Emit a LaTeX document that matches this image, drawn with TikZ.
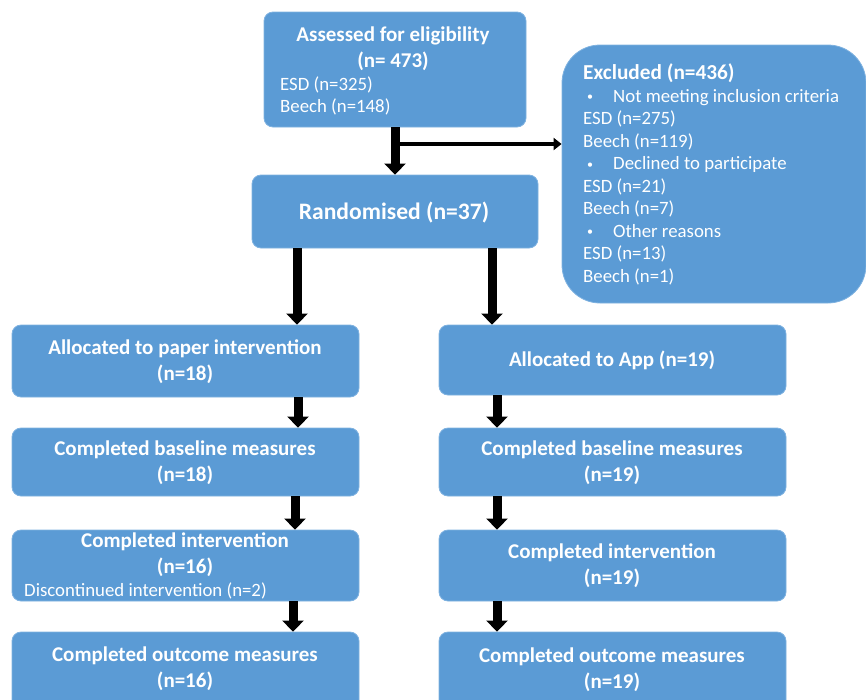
\documentclass[tikz,border=0pt]{standalone}
\usepackage{fontspec}
\setmainfont{Carlito}
\usetikzlibrary{arrows.meta}
\definecolor{boxblue}{HTML}{5B9BD5}
\definecolor{boxedge}{HTML}{7FB2E0}
\newcommand{\smallbul}{\hspace*{4pt}\makebox[26pt][l]{\raisebox{1.5pt}{\fontsize{12}{12}\selectfont\textbullet}}}

\begin{document}
\begin{tikzpicture}[x=1pt,y=-1pt,
  box/.style={draw=boxedge, line width=0.8pt, fill=boxblue, rounded corners=9pt,
              inner sep=0pt, minimum width=347pt},
  head/.style={text=white, font=\fontsize{21}{26}\selectfont\bfseries, align=center, inner sep=0pt},
  note/.style={text=white, font=\fontsize{18.8}{22.5}\selectfont, align=left, inner sep=0pt},
  bigarrow/.style={line width=9pt, -{Triangle[width=21pt,length=11pt]}},
  thinarrow/.style={line width=4pt, -{Triangle[width=12pt,length=8pt]}}]
\useasboundingbox (0,0) rectangle (866,699);
\clip (0,0) rectangle (866,699);

% boxes
\node[box, minimum width=262pt, minimum height=115pt] (assess) at (395,69.5) {};
\node[box, minimum width=286pt, minimum height=73pt] (rand) at (395,211.5) {};
\node[box, rounded corners=38pt, minimum width=304pt, minimum height=258pt] (excl) at (714,174) {};

\node[box, minimum height=72pt] (L1) at (185.5,361) {};
\node[box, minimum height=68pt] (L2) at (185.5,462) {};
\node[box, minimum height=71pt] (L3) at (185.5,565.5) {};
\node[box, minimum height=83pt] (L4) at (185.5,673.5) {};

\node[box, minimum height=70pt] (R1) at (612.5,360) {};
\node[box, minimum height=68pt] (R2) at (612.5,462) {};
\node[box, minimum height=71pt] (R3) at (612.5,565.5) {};
\node[box, minimum height=83pt] (R4) at (612.5,673.5) {};

% texts
\node[head] (assessT) at (393,48.5) {Assessed for eligibility\\(n= 473)};
\node[note, anchor=west] (assessN) at (280,96) {ESD (n=325)\\Beech (n=148)};
\node[text=white, inner sep=0pt, font=\fontsize{23.6}{28}\selectfont\bfseries] (randT) at (394,213) {Randomised (n=37)};
\node[note, anchor=west] (exclT) at (583,174.5) {%
  {\fontsize{21.3}{22.5}\selectfont\bfseries Excluded (n=436)}\\
  \smallbul Not meeting inclusion criteria\\
  ESD (n=275)\\
  Beech (n=119)\\
  \smallbul Declined to participate\\
  ESD (n=21)\\
  Beech (n=7)\\
  \smallbul Other reasons\\
  ESD (n=13)\\
  Beech (n=1)};

\node[head] (L1T) at (185,362) {Allocated to paper intervention\\(n=18)};
\node[head] (L2T) at (185,463) {Completed baseline measures\\(n=18)};
\node[head] (L3T) at (185,555) {Completed intervention\\(n=16)};
\node[note, anchor=west] (L3N) at (24,591) {Discontinued intervention (n=2)};
\node[head] (L4T) at (185,669) {Completed outcome measures\\(n=16)};

\node[head] (R1T) at (612,360) {Allocated to App (n=19)};
\node[head] (R2T) at (612,463) {Completed baseline measures\\(n=19)};
\node[head] (R3T) at (612,566) {Completed intervention\\(n=19)};
\node[head] (R4T) at (612,670) {Completed outcome measures\\(n=19)};

% connectors
\draw[bigarrow] (assess.south) -- (assess.south |- rand.north);
\coordinate (split) at (400,144);
\draw[thinarrow] (split) -- (split -| excl.west);

\draw[bigarrow] ([xshift=-98pt]rand.south) -- ([xshift=-98pt]rand.south |- L1.north);
\draw[bigarrow] ([xshift=97pt]rand.south) -- ([xshift=97pt]rand.south |- R1.north);

\draw[bigarrow] ([xshift=112.5pt]L1.south) -- ([xshift=112.5pt]L1.south |- L2.north);
\draw[bigarrow] ([xshift=109.5pt]L2.south) -- ([xshift=109.5pt]L2.south |- L3.north);
\draw[bigarrow] ([xshift=107.5pt]L3.south) -- ([xshift=107.5pt]L3.south |- L4.north);

\draw[bigarrow] ([xshift=-115.5pt]R1.south) -- ([xshift=-115.5pt]R1.south |- R2.north);
\draw[bigarrow] ([xshift=-115.5pt]R2.south) -- ([xshift=-115.5pt]R2.south |- R3.north);
\draw[bigarrow] ([xshift=-115.5pt]R3.south) -- ([xshift=-115.5pt]R3.south |- R4.north);
\end{tikzpicture}
\end{document}
